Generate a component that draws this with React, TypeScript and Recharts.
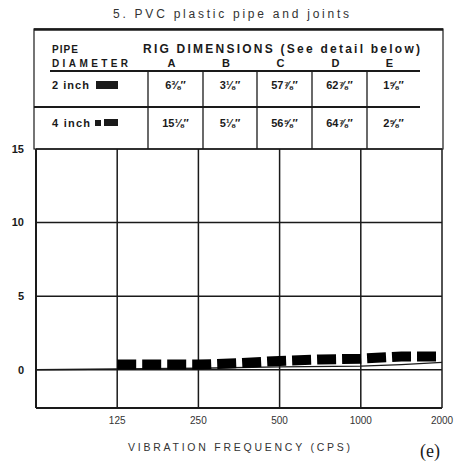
import { CartesianGrid, Line, LineChart, XAxis, YAxis } from "recharts"

// frequency (cps) / displacement readings
const FREQ_2IN = [125, 177, 250, 354, 500, 707, 1000, 1414, 2000]
const VAL_2IN = [0.35, 0.35, 0.35, 0.45, 0.6, 0.7, 0.75, 0.9, 0.9]
const FREQ_4IN = [62.5, 125, 250, 500, 1000, 1414, 2000]
const VAL_4IN = [0, 0.05, 0.1, 0.2, 0.25, 0.35, 0.5]

const X_TICKS = [125, 250, 500, 1000, 2000]
const Y_TICKS = [0, 5, 10, 15]

const DIM_COLS = ["A", "B", "C", "D", "E"]
const PIPE_ROWS = ["2 inch", "4 inch"]
const DIMS_2IN = ["6⅜″", "3⅛″", "57⅞″", "62⅞″", "1⅝″"]
const DIMS_4IN = ["15⅛″", "5⅛″", "56⅝″", "64⅞″", "2⅝″"]

const data2 = FREQ_2IN.map((f, i) => ({ f, v: VAL_2IN[i] }))
const data4 = FREQ_4IN.map((f, i) => ({ f, v: VAL_4IN[i] }))

const INK = "#1a1a1a"
const FONT = "'Liberation Sans', Arial, sans-serif"

const colEdges = [148, 203, 257, 312, 367, 420]

const Table = () => (
  <svg width={457} height={462} style={{ position: "absolute", top: 0, left: 0, pointerEvents: "none" }}>
    <g fontFamily={FONT} fill={INK}>
      <text x={231} y={18} fontSize={12} textAnchor="middle" textLength={236} fill="#333">
        5. PVC plastic pipe and joints
      </text>
      <rect x={34} y={29} width={409} height={120} fill="none" stroke={INK} strokeWidth={1.2} />
      <line x1={34} y1={29.5} x2={443} y2={29.5} stroke={INK} strokeWidth={2.5} />
      <text x={52} y={53} fontSize={10} fontWeight="bold" textLength={26}>PIPE</text>
      <text x={143} y={53} fontSize={12} fontWeight="bold" textLength={277}>
        RIG DIMENSIONS (See detail below)
      </text>
      <text x={52} y={67} fontSize={10} fontWeight="bold" textLength={76}>DIAMETER</text>
      {DIM_COLS.map((c, i) => (
        <text key={c} x={(colEdges[i] + colEdges[i + 1]) / 2 - 4} y={67} fontSize={11} fontWeight="bold" textAnchor="middle">
          {c}
        </text>
      ))}
      <line x1={50} y1={71} x2={420} y2={71} stroke={INK} strokeWidth={2} />
      <line x1={34} y1={107} x2={420} y2={107} stroke={INK} strokeWidth={2} />
      {colEdges.slice(0, 5).map((x) => (
        <line key={x} x1={x} y1={72} x2={x} y2={149} stroke={INK} strokeWidth={1.3} />
      ))}
      <text x={52} y={89} fontSize={11} fontWeight="bold" textLength={37}>{PIPE_ROWS[0]}</text>
      <rect x={96} y={81} width={22} height={8} fill={INK} />
      <text x={52} y={127} fontSize={11} fontWeight="bold" textLength={38}>{PIPE_ROWS[1]}</text>
      <rect x={95} y={120} width={6} height={6} fill={INK} />
      <rect x={104} y={119} width={14} height={7} fill={INK} />
      {DIMS_2IN.map((d, i) => (
        <text key={"a" + i} x={(colEdges[i] + colEdges[i + 1]) / 2} y={89} fontSize={11} fontWeight="bold" textAnchor="middle">
          {d}
        </text>
      ))}
      {DIMS_4IN.map((d, i) => (
        <text key={"b" + i} x={(colEdges[i] + colEdges[i + 1]) / 2} y={127} fontSize={11} fontWeight="bold" textAnchor="middle">
          {d}
        </text>
      ))}
      <text x={239} y={451} fontSize={10.5} textAnchor="middle" textLength={222} fill="#333">
        VIBRATION FREQUENCY (CPS)
      </text>
      <text x={430} y={457} fontSize={18} textAnchor="middle" fontFamily="'Liberation Serif', serif">
        (e)
      </text>
    </g>
  </svg>
)

export default function App() {
  return (
    <div style={{ position: "absolute", top: 0, left: 0, width: 457, height: 462, background: "#fff" }}>
      <LineChart width={457} height={462} data={data2} margin={{ top: 149, right: 15, bottom: 34, left: 0 }}>
        <CartesianGrid stroke={INK} strokeWidth={1.5} horizontal vertical />
        <XAxis
          dataKey="f"
          type="number"
          scale="log"
          domain={[62.5, 2000]}
          ticks={X_TICKS}
          allowDataOverflow
          height={20}
          tickLine={false}
          tickMargin={3}
          axisLine={{ stroke: INK, strokeWidth: 2 }}
          tick={{ fontSize: 10, fill: "#333", fontFamily: FONT }}
        />
        <YAxis
          type="number"
          domain={[-2.6, 15]}
          ticks={Y_TICKS}
          allowDataOverflow
          width={36}
          tickLine={false}
          tickMargin={6}
          axisLine={{ stroke: INK, strokeWidth: 2 }}
          tick={{ fontSize: 11, fontWeight: "bold", fill: INK, fontFamily: FONT }}
        />
        <Line
          data={data4}
          dataKey="v"
          type="linear"
          stroke={INK}
          strokeWidth={1.3}
          dot={false}
          isAnimationActive={false}
        />
        <Line
          data={data2}
          dataKey="v"
          type="linear"
          stroke="#000"
          strokeWidth={10}
          strokeDasharray="19 6"
          strokeLinecap="butt"
          dot={false}
          isAnimationActive={false}
        />
      </LineChart>
      <Table />
    </div>
  )
}
